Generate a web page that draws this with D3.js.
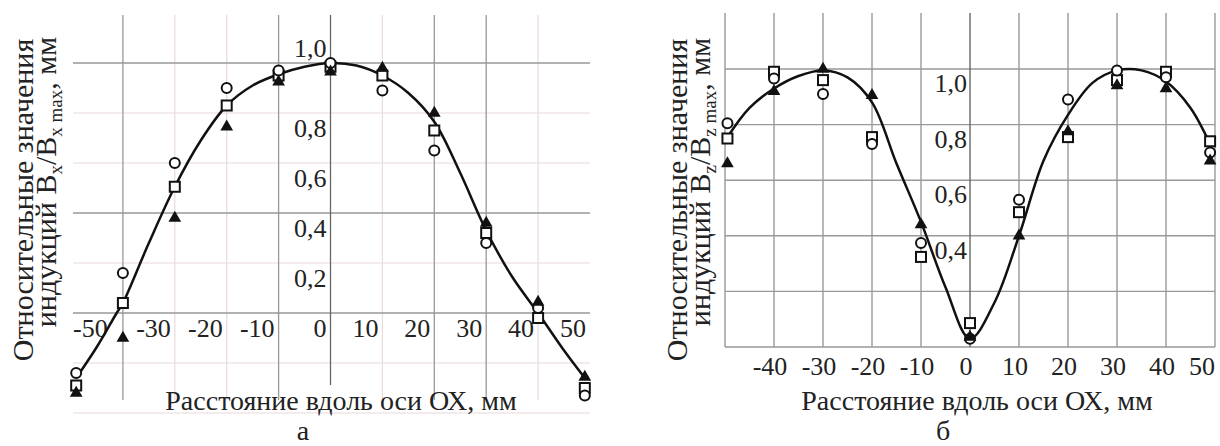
<!DOCTYPE html>
<html>
<head>
<meta charset="utf-8">
<script src="https://cdn.jsdelivr.net/npm/d3@7"></script>
<style>
  body { margin: 0; background: #fff; }
</style>
</head>
<body>
<div id="chart"></div>
<script>
// panel a: B_x / B_x max
const xA = [-49, -40, -30, -20, -10, 0, 10, 20, 30, 40, 49];
const circlesA = [-0.24, 0.16, 0.60, 0.90, 0.97, 1.00, 0.89, 0.65, 0.28, 0.02, -0.33];
const squaresA = [-0.29, 0.04, 0.505, 0.83, 0.95, 0.985, 0.95, 0.73, 0.32, -0.02, -0.30];
const trianglesA = [-0.32, -0.10, 0.38, 0.745, 0.925, 0.965, 0.98, 0.80, 0.36, 0.044, -0.256];
const curveXA = [-49, -45, -41.2, -40, -35, -30, -25, -20, -15, -10, -5, 0, 5, 10, 15, 20, 25, 30, 35, 40, 45, 49];
const curveYA = [-0.26, -0.135, 0, 0.04, 0.28, 0.505, 0.69, 0.83, 0.91, 0.955, 0.985, 1.0, 0.99, 0.95, 0.88, 0.765, 0.56, 0.33, 0.145, 0.0, -0.15, -0.26];
const xTicksA = [-50, -30, -20, -10, 0, 10, 20, 30, 40, 50];
const yTicksA = [1.0, 0.8, 0.6, 0.4, 0.2];
const darkXA = [-40, -10, 0, 20, 30];
const lightXA = [-30, -20, 10, 40];
const darkYA = [1.0, 0.4, 0];
const lightYA = [0.8, 0.6, 0.2, -0.2, -0.4];

// panel б: B_z / B_z max
const xB = [-49.5, -40, -30, -20, -10, 0, 10, 20, 30, 40, 49];
const circlesB = [0.805, 0.966, 0.91, 0.73, 0.374, 0.03, 0.53, 0.89, 0.995, 0.97, 0.70];
const squaresB = [0.75, 0.99, 0.96, 0.755, 0.324, 0.086, 0.485, 0.755, 0.96, 0.99, 0.74];
const trianglesB = [0.66, 0.92, 1.0, 0.905, 0.44, 0.036, 0.40, 0.775, 0.94, 0.93, 0.67];
const curveXB = [-49.5, -45, -40, -35, -30, -25, -20, -15, -10, -5, 0, 5, 10, 15, 20, 25, 30, 35, 40, 45, 49];
const curveYB = [0.755, 0.86, 0.93, 0.975, 0.995, 0.97, 0.88, 0.66, 0.45, 0.215, 0.03, 0.16, 0.40, 0.67, 0.835, 0.95, 0.995, 0.995, 0.955, 0.86, 0.73];
const xTicksB = [-40, -30, -20, -10, 0, 10, 20, 30, 40, 50];
const yTicksB = [1.0, 0.8, 0.6, 0.4];
const gridXB = [-50, -40, -30, -20, -10, 0, 10, 20, 30, 40, 50];
const gridYB = [1.0, 0.8, 0.6, 0.4, 0.2, 0];

const svg = d3.select("#chart").append("svg")
    .attr("width", 1220)
    .attr("height", 446)
    .attr("font-family", "'Liberation Serif', 'DejaVu Serif', 'Times New Roman', serif")
    .style("font-family", "'Liberation Serif', 'DejaVu Serif', 'Times New Roman', serif");

const fmt = v => v.toFixed(1).replace(".", ",");
const ink = "#222";

function drawMarkers(g, x, y, xs, circles, squares, triangles) {
    const pts = (vals) => xs.map((d, i) => [x(d), y(vals[i])]);
    g.selectAll(".sq").data(pts(squares)).enter().append("rect")
        .attr("x", d => d[0] - 5).attr("y", d => d[1] - 5)
        .attr("width", 10).attr("height", 10)
        .attr("fill", "white").attr("stroke", "#111").attr("stroke-width", 2);
    g.selectAll(".ci").data(pts(circles)).enter().append("circle")
        .attr("cx", d => d[0]).attr("cy", d => d[1]).attr("r", 5)
        .attr("fill", "white").attr("stroke", "#111").attr("stroke-width", 2);
    g.selectAll(".tr").data(pts(triangles)).enter().append("path")
        .attr("d", d3.symbol(d3.symbolTriangle, 70))
        .attr("transform", d => `translate(${d[0]},${d[1]})`)
        .attr("fill", "#111");
}

function drawCurve(g, x, y, cx, cy) {
    const line = d3.line()
        .x(d => x(d[0]))
        .y(d => y(d[1]))
        .curve(d3.curveCatmullRom.alpha(0.5));
    g.append("path")
        .datum(cx.map((d, i) => [d, cy[i]]))
        .attr("d", line)
        .attr("fill", "none")
        .attr("stroke", "#111")
        .attr("stroke-width", 2.5);
}

function yTitle(g, xPos, yPos, sub) {
    g.append("text")
        .attr("transform", `translate(${xPos},${yPos}) rotate(-90)`)
        .attr("text-anchor", "middle")
        .attr("font-size", 30)
        .attr("fill", ink)
        .text("Относительные значения");
    const t2 = g.append("text")
        .attr("transform", `translate(${xPos + 23},${yPos - 18}) rotate(-90)`)
        .attr("text-anchor", "middle")
        .attr("font-size", 30)
        .attr("fill", ink);
    t2.append("tspan").text("индукций B");
    t2.append("tspan").attr("font-size", 19).attr("dy", 6).text(sub);
    t2.append("tspan").attr("dy", -6).text("/B");
    t2.append("tspan").attr("font-size", 19).attr("dy", 6).text(sub + " max");
    t2.append("tspan").attr("dy", -6).text(", мм");
}

// ---------- panel a ----------
const gA = svg.append("g");
const xa = d3.scaleLinear().domain([-50, 50]).range([71, 590]);
const ya = d3.scaleLinear().domain([0, 1]).range([313, 63]);

gA.selectAll(".hl").data(lightYA).enter().append("line")
    .attr("x1", 73).attr("x2", 590)
    .attr("y1", d => ya(d)).attr("y2", d => ya(d))
    .attr("stroke", "#eadada").attr("stroke-width", 1.2);
gA.selectAll(".vl").data(lightXA).enter().append("line")
    .attr("x1", d => xa(d)).attr("x2", d => xa(d))
    .attr("y1", 15).attr("y2", 400)
    .attr("stroke", "#eadada").attr("stroke-width", 1.2);
gA.selectAll(".hd").data(darkYA).enter().append("line")
    .attr("x1", 73).attr("x2", 590)
    .attr("y1", d => ya(d)).attr("y2", d => ya(d))
    .attr("stroke", "#999").attr("stroke-width", 1.3);
gA.selectAll(".vd").data(darkXA).enter().append("line")
    .attr("x1", d => xa(d)).attr("x2", d => xa(d))
    .attr("y1", 15).attr("y2", d => d === 0 ? 385 : 400)
    .attr("stroke", d => d === 0 ? "#666" : "#999").attr("stroke-width", 1.3);

gA.selectAll(".xt").data(xTicksA).enter().append("text")
    .attr("x", d => d === -50 ? xa(d) + 2 : xa(d) - 4)
    .attr("y", ya(0) + 24)
    .attr("text-anchor", d => d === -50 ? "start" : "end")
    .attr("font-size", 26)
    .attr("fill", ink)
    .text(d => d);
gA.selectAll(".yt").data(yTicksA).enter().append("text")
    .attr("x", xa(0) - 4)
    .attr("y", d => d === 1 ? ya(d) - 6 : ya(d) + 24)
    .attr("text-anchor", "end")
    .attr("font-size", 26)
    .attr("fill", ink)
    .text(fmt);

drawCurve(gA, xa, ya, curveXA, curveYA);
drawMarkers(gA, xa, ya, xA, circlesA, squaresA, trianglesA);

gA.append("text").attr("x", 341).attr("y", 410)
    .attr("text-anchor", "middle").attr("font-size", 28).attr("fill", ink)
    .text("Расстояние вдоль оси ОХ, мм");
gA.append("text").attr("x", 303).attr("y", 440)
    .attr("text-anchor", "middle").attr("font-size", 28).attr("fill", ink)
    .text("а");
yTitle(gA, 33, 200, "x");

// ---------- panel б ----------
const gB = svg.append("g");
const xb = d3.scaleLinear().domain([-50, 50]).range([725, 1215]);
const yb = d3.scaleLinear().domain([0, 1]).range([347, 69]);

gB.selectAll(".hg").data(gridYB).enter().append("line")
    .attr("x1", 725).attr("x2", 1215)
    .attr("y1", d => yb(d)).attr("y2", d => yb(d))
    .attr("stroke", "#999").attr("stroke-width", 1.4);
gB.selectAll(".vg").data(gridXB).enter().append("line")
    .attr("x1", d => xb(d)).attr("x2", d => xb(d))
    .attr("y1", 13).attr("y2", 347)
    .attr("stroke", d => d === 0 ? "#666" : "#999").attr("stroke-width", 1.4);

gB.selectAll(".xt").data(xTicksB).enter().append("text")
    .attr("x", d => d === 50 ? xb(d) : xb(d) - 4)
    .attr("y", yb(0) + 28)
    .attr("text-anchor", d => d === 50 ? "end" : "middle")
    .attr("font-size", 26)
    .attr("fill", ink)
    .text(d => d);
gB.selectAll(".yt").data(yTicksB).enter().append("text")
    .attr("x", xb(0) - 3)
    .attr("y", d => yb(d) + 23)
    .attr("text-anchor", "end")
    .attr("font-size", 26)
    .attr("fill", ink)
    .text(fmt);

drawCurve(gB, xb, yb, curveXB, curveYB);
drawMarkers(gB, xb, yb, xB, circlesB, squaresB, trianglesB);

gB.append("text").attr("x", 977).attr("y", 410)
    .attr("text-anchor", "middle").attr("font-size", 28).attr("fill", ink)
    .text("Расстояние вдоль оси ОХ, мм");
gB.append("text").attr("x", 943).attr("y", 440)
    .attr("text-anchor", "middle").attr("font-size", 28).attr("fill", ink)
    .text("б");
yTitle(gB, 687, 200, "z");
</script>
</body>
</html>
